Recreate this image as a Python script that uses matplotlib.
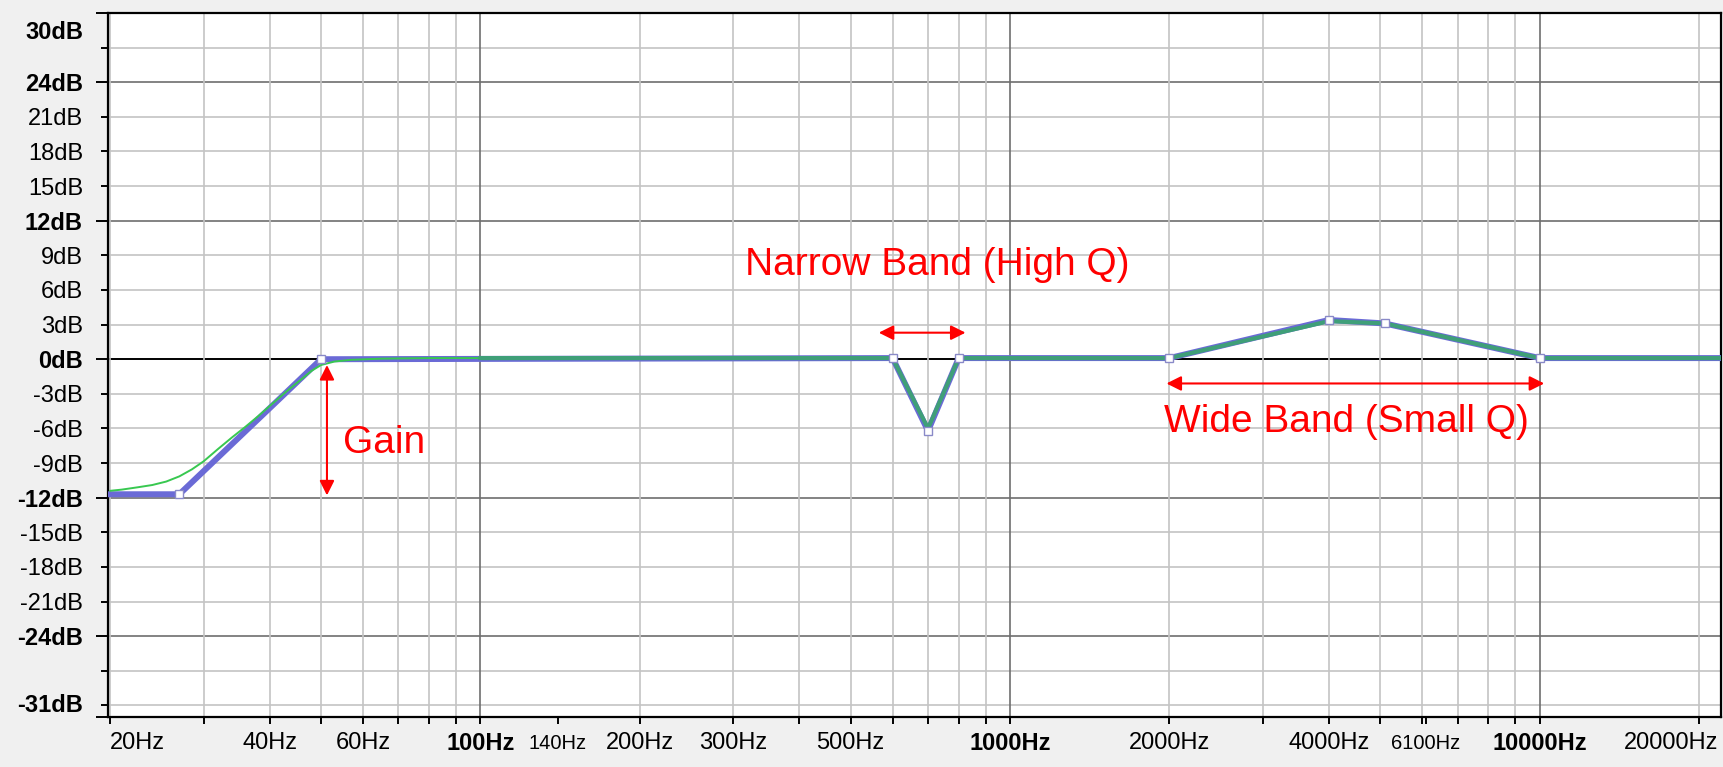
import matplotlib
matplotlib.use("Agg")
import matplotlib.pyplot as plt
import matplotlib.transforms as mtransforms

plt.rcParams['font.family'] = ['Liberation Sans', 'DejaVu Sans']

# 画出的包络线(控制点)
env_freq = [20, 27, 50, 600, 700, 800, 2000, 4000, 5100, 10000, 22000]
env_db = [-11.7, -11.7, 0.0, 0.1, -6.2, 0.1, 0.1, 3.4, 3.1, 0.1, 0.1]

# 实际滤波器响应
resp_lo_freq = [20, 21, 22.5, 24, 25.5, 27, 28.5, 30, 32, 34, 36, 38, 40, 43, 46, 48,
                50, 53, 57, 65, 80, 100]
resp_lo_db = [-11.4, -11.3, -11.1, -10.9, -10.6, -10.15, -9.55, -8.85, -7.75, -6.75,
              -5.85, -4.95, -4.05, -2.8, -1.7, -1.0, -0.5, -0.2, -0.05, 0.05, 0.1, 0.1]
resp_hi_freq = [100, 600, 700, 800, 2000, 4000, 5100, 10000, 22000]
resp_hi_db = [0.1, 0.1, -6.0, 0.1, 0.1, 3.3, 3.1, 0.1, 0.1]

# 刻度
x_ticks = [20, 40, 60, 100, 140, 200, 300, 500, 1000, 2000, 4000, 6100, 10000, 20000]
x_labels = ['20Hz', '40Hz', '60Hz', '100Hz', '140Hz', '200Hz', '300Hz', '500Hz',
            '1000Hz', '2000Hz', '4000Hz', '6100Hz', '10000Hz', '20000Hz']
x_minor = [30, 50, 70, 80, 90, 400, 600, 700, 800, 900,
           3000, 5000, 6000, 7000, 8000, 9000]
y_major = [30, 24, 12, 0, -12, -24, -31]
y_major_labels = ['30dB', '24dB', '12dB', '0dB', '-12dB', '-24dB', '-31dB']
y_minor = [27, 21, 18, 15, 9, 6, 3, -3, -6, -9, -15, -18, -21, -27, -30]
y_minor_labels = ['', '21dB', '18dB', '15dB', '9dB', '6dB', '3dB', '-3dB', '-6dB',
                  '-9dB', '-15dB', '-18dB', '-21dB', '', '']

fig = plt.figure(figsize=(17.24, 7.67), dpi=100, facecolor='#f0f0f0')
ax = fig.add_axes([108 / 1724, 1 - 717 / 767, (1721 - 108) / 1724, (717 - 13) / 767])
ax.set_xscale('log')
ax.set_xlim(19.8, 22000)
ax.set_ylim(-31, 30)

# 网格
for db in range(-30, 30, 3):
    if db == 0:
        c, w = 'black', 1.4
    elif db % 12 == 0:
        c, w = '#6e6e6e', 1.2
    else:
        c, w = '#c4c4c4', 1.2
    ax.axhline(db, color=c, lw=w, zorder=1)
for dec in [10, 100, 1000]:
    for m in range(2 if dec == 10 else 1, 10):
        f = dec * m
        c = '#6e6e6e' if m == 1 else '#c4c4c4'
        ax.axvline(f, color=c, lw=1.2, zorder=1)
ax.axvline(10000, color='#6e6e6e', lw=1.2, zorder=1)
ax.axvline(20000, color='#c4c4c4', lw=1.2, zorder=1)

# 曲线
ax.plot(env_freq, env_db, color='#6a6ad6', lw=4.3, zorder=3, solid_joinstyle='round')
ax.plot(resp_lo_freq, resp_lo_db, color='#38c850', lw=1.4, zorder=4)
ax.plot(resp_hi_freq, resp_hi_db, color='#3f9f78', lw=3.0, zorder=4)
ax.plot(env_freq[1:-1], env_db[1:-1], ls='none', marker='s', ms=5.8,
        mfc='white', mec='#8a8ac8', mew=1.0, zorder=5)

# 注释
red = '#ff0000'
arrow = dict(arrowstyle='<|-|>', color=red, lw=1.5, mutation_scale=22, shrinkA=0, shrinkB=0)
ax.annotate('', xy=(51.3, -0.5), xytext=(51.3, -11.8), arrowprops=arrow, zorder=6)
ax.annotate('', xy=(565, 2.3), xytext=(824, 2.3), arrowprops=arrow, zorder=6)
ax.annotate('', xy=(1974, -2.1), xytext=(10200, -2.1), arrowprops=arrow, zorder=6)
ax.text(55, -7.3, 'Gain', color=red, fontsize=28, ha='left', va='center', zorder=6)
ax.text(730, 8.2, 'Narrow Band (High Q)', color=red, fontsize=28, ha='center', va='center', zorder=6)
ax.text(4316, -5.4, 'Wide Band (Small Q)', color=red, fontsize=28, ha='center', va='center', zorder=6)

# 坐标轴刻度
ax.set_xticks(x_ticks)
ax.set_xticklabels(x_labels)
ax.set_xticks(x_minor, minor=True)
ax.set_xticklabels([], minor=True)
ax.set_yticks(y_major)
ax.set_yticklabels(y_major_labels)
ax.set_yticks(y_minor, minor=True)
ax.set_yticklabels(y_minor_labels, minor=True)

ax.tick_params(axis='x', which='both', length=5, width=1.4, pad=6, labelsize=17)
ax.tick_params(axis='y', which='major', length=8.6, width=1.4, pad=9.4, labelsize=17)
ax.tick_params(axis='y', which='minor', length=5, width=1.4, pad=13, labelsize=17)

for sp in ax.spines.values():
    sp.set_linewidth(1.6)
    sp.set_color('black')

for lbl in ax.get_xticklabels():
    t = lbl.get_text()
    if t in ('100Hz', '1000Hz', '10000Hz'):
        lbl.set_fontweight('bold')
    if t in ('140Hz', '6100Hz'):
        lbl.set_fontsize(14.5)
        lbl.set_transform(lbl.get_transform() +
                          mtransforms.ScaledTranslation(0, -0.02, fig.dpi_scale_trans))
    if t == '20Hz':
        lbl.set_ha('left')
    if t == '20000Hz':
        lbl.set_ha('right')
        lbl.set_transform(lbl.get_transform() +
                          mtransforms.ScaledTranslation(0.19, 0, fig.dpi_scale_trans))
for lbl in ax.get_yticklabels():
    t = lbl.get_text()
    lbl.set_fontweight('bold')
    if t == '30dB':
        lbl.set_transform(lbl.get_transform() +
                          mtransforms.ScaledTranslation(0, -0.17, fig.dpi_scale_trans))
    if t == '-31dB':
        lbl.set_transform(lbl.get_transform() +
                          mtransforms.ScaledTranslation(0, 0.14, fig.dpi_scale_trans))

fig.savefig('out.png', dpi=100, facecolor=fig.get_facecolor())
